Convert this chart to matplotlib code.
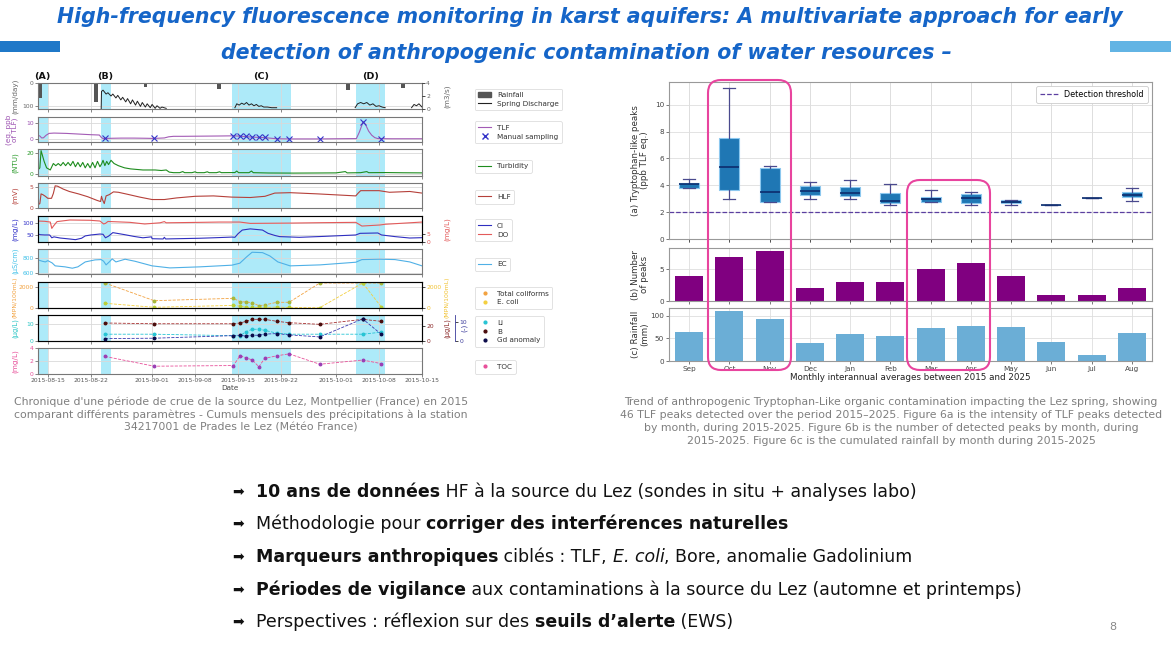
import numpy as np
import pandas as pd
import matplotlib
matplotlib.use('Agg')
import matplotlib.pyplot as plt
import matplotlib.dates as mdates
from matplotlib.patches import FancyBboxPatch, Rectangle, Patch
from matplotlib.lines import Line2D

# ----------------------------------------------------------------- DATA
# Left chart : days since 2015-08-15
rain_days = [-1.2, 7.9, 15.9, 27.0, 27.9, 28.9, 30.8, 47.8, 48.9, 57.9]
rain_mm = [64, 81, 16, 5, 26, 5, 3, 3, 30, 22]

q_days = [8.7, 8.75, 9.0, 9.5, 9.8, 10.3, 10.6, 11.1, 11.4, 11.9, 12.2, 12.7, 13.0, 13.5, 13.8,
          14.3, 14.6, 15.1, 15.4, 15.9, 16.2, 16.7, 17.0, 17.5, 17.8, 18.3, 18.6, 19.3, np.nan,
          30.5, 30.8, 31.2, 31.6, 32.0, 32.4, 32.8, 33.2, 33.6, 34.0, 34.4, 34.8, 35.2, 35.8, 36.5, 37.3, np.nan,
          50.1, 50.5, 51.0, 51.5, 52.0, 52.5, 53.0, 53.5, 54.0, 54.5, 55.0, np.nan,
          59.3, 59.7, 60.1, 60.5, 61.0]
q_m3s = [0.0, 2.7, 2.9, 2.3, 2.5, 2.0, 2.3, 1.7, 2.1, 1.4, 1.8, 1.1, 1.6, 0.8, 1.4,
         0.6, 1.2, 0.4, 1.0, 0.3, 0.8, 0.2, 0.7, 0.1, 0.5, 0.1, 0.3, 0.1, np.nan,
         0.2, 0.8, 0.6, 0.9, 0.7, 1.0, 0.6, 0.8, 0.5, 0.7, 0.4, 0.5, 0.3, 0.3, 0.2, 0.2, np.nan,
         0.2, 0.8, 1.0, 0.8, 1.0, 0.6, 0.8, 0.4, 0.5, 0.3, 0.2, np.nan,
         0.2, 0.7, 0.5, 0.8, 0.3]

tlf_days = [-1.6, -1.3, -1.0, -0.7, -0.3, 0.2, 1.0, 3.0, 5.0, 7.0, 8.4, 8.7, 9.0, 9.5, 10.5, 12, 14, 16,
            17.3, 19, 19.7, 20.5, 22, 25, 28, 30.2, 31.3, 33.3, 35.3, 37.3, 39.3, 42, 44.3, 47, 50.3,
            50.8, 51.4, 51.8, 52.3, 52.8, 53.3, 53.8, 56, 58, 61]
tlf_val = [2.4, 2.0, 0.8, 0.9, 2.4, 3.6, 3.8, 3.6, 3.2, 2.8, 2.6, 1.2, 0.4, 0.5, 0.6, 0.7, 0.7, 0.6,
           0.5, 0.8, 1.5, 1.8, 1.8, 1.9, 2.0, 2.1, 1.9, 1.3, 1.0, 0.3, 0.2, 0.2, 0.2, 0.3, 0.4,
           4.5, 10.8, 9.0, 5.0, 2.5, 1.0, 0.4, 0.3, 0.3, 0.3]

turb_days = [-1.6, -1.3, -1.1, -0.9, -0.6, -0.2, 0.4, 0.9, 1.3, 1.7, 2.1, 2.5, 2.9, 3.3, 3.7, 4.1, 4.5,
             4.9, 5.3, 5.7, 6.1, 6.5, 6.9, 7.3, 7.7, 8.1, 8.5, 8.8, 9.0, 9.3, 9.6, 9.9, 10.3, 10.8,
             11.5, 12.5, 13.5, 14.5, 15.5, 16.5, 17.5, 18.5, 19.3, 19.8, 20.5, 21.5, 22.0, 22.3,
             23.5, 24.0, 24.3, 25.5, 26.0, 26.3, 27.5, 28.0, 28.3, 30.5, 30.8, 31.1, 32.8, 33.2,
             33.5, 36, 40, 44, 47, 48.5, 48.8, 51, 52, 52.3, 55, 58, 61]
turb_ntu = [4, 6, 22, 18, 12, 6, 4, 10, 8, 10, 8, 11, 8, 11, 8, 12, 7,
            11, 7, 11, 6, 10, 6, 11, 6, 12, 7, 10, 13, 8, 12, 9, 13, 10,
            8, 6, 5, 4.5, 4, 4, 4, 3.5, 4, 2, 1.5, 1.5, 2.5, 1.5,
            1.5, 2.3, 1.5, 1.5, 2.3, 1.5, 1.5, 2.3, 1.5, 1.6, 3.0, 1.5, 1.5, 3.0,
            1.5, 1.2, 1.1, 1.2, 1.3, 2.5, 1.3, 1.5, 2.5, 1.5, 1.6, 1.4, 1.3]

hlf_days = [-1.6, -1.3, -1.1, -0.8, -0.4, 0.0, 0.6, 0.9, 1.2, 1.6, 2.5, 3.5, 5, 6.5, 8.0, 8.6, 8.75,
            8.9, 9.2, 9.5, 10.0, 10.7, 11.5, 13.0, 15, 17, 19, 21, 24, 27, 30, 33, 35.4, 37, 39.5,
            44, 50.2, 50.6, 51, 54, 55.7, 59, 61]
hlf_mv = [0.7, 1.0, 3.4, 3.2, 2.8, 2.3, 2.3, 3.5, 5.4, 5.3, 4.6, 4.0, 3.4, 2.7, 1.8, 1.5, 2.8,
          2.0, 1.0, 2.9, 3.2, 3.9, 3.8, 3.3, 2.6, 2.0, 2.0, 2.4, 2.8, 2.9, 2.6, 2.5, 2.8, 3.6, 3.7,
          3.4, 2.9, 3.6, 4.2, 4.2, 3.8, 4.0, 3.6]

cl_days = [-1.6, -1.2, -0.5, 0.3, 0.65, 1.0, 2, 3.5, 4.5, 5.5, 6.1, 7, 8.5, 9.0, 9.4, 9.9, 10.6, 11.5,
           12.6, 14, 15.5, 16.9, 17.0, 18.8, 19.0, 19.2, 21, 24.8, 27, 30, 30.5, 31.0, 31.7, 33, 35,
           35.9, 37, 37.8, 41, 45, 50.2, 50.9, 53.8, 54.4, 56.6, 59, 61]
cl_mgl = [54, 51, 50, 50, 38, 42, 37, 33, 30, 36, 46, 50, 54, 53, 38, 45, 60, 56,
          51, 44, 38, 42, 34, 33, 40, 33, 34, 36, 38, 41, 40, 55, 71, 76, 71,
          57, 48, 43, 40, 44, 50, 57, 58.5, 50, 43, 37, 38.5]

do_days = [-1.6, -0.5, 0.4, 0.65, 0.9, 1.5, 3.6, 6.9, 8.5, 9.1, 9.4, 9.8, 13.4, 15.8, 18.3, 19.0,
           19.3, 24.8, 28, 31.3, 33, 39.5, 45, 50.2, 51.2, 54.1, 55, 61]
do_mgl = [14.0, 13.8, 13.3, 9.0, 10.5, 13.6, 14.7, 14.5, 14.0, 12.0, 12.4, 13.7, 13.1, 12.0, 12.8,
          13.6, 12.8, 13.1, 13.3, 13.3, 12.4, 12.6, 12.9, 13.1, 10.6, 11.3, 11.8, 13.3]

ec_days = [-1.6, -0.9, -0.4, 0.0, 0.7, 1.2, 2.8, 4.0, 4.9, 6.1, 7.7, 8.7, 9.1, 9.5, 10.0, 10.5, 11.1,
           12.6, 14.2, 17.0, 19.9, 24.8, 30.0, 31.3, 32.4, 33.3, 35.0, 36.2, 37.5, 39.5, 44.4,
           50.2, 51.2, 54.1, 56.6, 59.0, 61.0]
ec_uscm = [778, 760, 751, 768, 738, 699, 686, 668, 686, 751, 778, 782, 760, 712, 750, 791, 751,
           787, 760, 699, 672, 686, 708, 734, 817, 879, 874, 830, 751, 699, 712,
           747, 782, 787, 782, 751, 699]

# Sampling campaigns
samp_dates = ['2015-08-24 08:00', '2015-09-01 08:00', '2015-09-14 06:00', '2015-09-15 08:00',
              '2015-09-16 08:00', '2015-09-17 08:00', '2015-09-18 10:00', '2015-09-19 08:00',
              '2015-09-21 08:00', '2015-09-23 08:00', '2015-09-28 08:00', '2015-10-05 08:00',
              '2015-10-08 08:00']
tlf_manual = [0.5, 0.5, 2.0, 2.1, 1.8, 1.2, 1.2, 1.2, 0.2, 0.2, 0.2, 10.8, 0.2]
total_coliforms = [2420, 686, 920, 590, 560, 490, 196, 265, 530, 530, 2420, 2420, 2420]
e_coli = [431, 39, 225, 157, 40, 20, 10, 20, 60, 20, 0, 2420, 98]
li_ugl = [3.8, 3.8, 2.9, 2.9, 5.3, 6.7, 6.7, 6.1, 4.4, 3.8, 3.8, 3.8, 5.0]
b_ugl = [24.1, 23.1, 23.1, 24.1, 26.4, 29.1, 29.1, 29.1, 26.4, 24.5, 22.3, 29.1, 26.4]
gd_anom = [1.2, 1.4, 2.8, 3.0, 2.5, 3.0, 3.0, 3.6, 3.9, 3.2, 2.1, 11.8, 3.6]
toc_mgl = [2.7, 1.2, 1.3, 2.8, 2.5, 2.15, 1.1, 2.4, 2.8, 3.1, 1.5, 2.15, 1.6]

# Right chart
months = ['Sep', 'Oct', 'Nov', 'Dec', 'Jan', 'Feb', 'Mar', 'Apr', 'May', 'Jun', 'Jul', 'Aug']
tlf_whislo = [3.8, 2.98, 2.73, 3.0, 3.0, 2.55, 2.75, 2.5, 2.55, 2.55, 3.05, 2.85]
tlf_q1 = [3.8, 3.67, 2.78, 3.3, 3.22, 2.65, 2.75, 2.7, 2.65, 2.55, 3.05, 3.13]
tlf_med = [4.1, 5.33, 3.5, 3.6, 3.42, 2.8, 2.95, 3.05, 2.78, 2.55, 3.05, 3.3]
tlf_q3 = [4.17, 7.52, 5.31, 3.92, 3.87, 3.4, 3.15, 3.37, 2.87, 2.55, 3.05, 3.52]
tlf_whishi = [4.47, 11.24, 5.43, 4.24, 4.41, 4.09, 3.65, 3.47, 2.87, 2.55, 3.05, 3.77]
n_peaks = [4, 7, 8, 2, 3, 3, 5, 6, 4, 1, 1, 2]
rain_month = [64, 111, 92, 40, 60, 55, 73, 77, 75, 41, 14, 62]
detection_threshold = 2.0

# ----------------------------------------------------------------- FIGURE
W, H = 1171, 646
fig = plt.figure(figsize=(W / 100, H / 100), dpi=100)
plt.rcParams['font.family'] = ['DejaVu Sans']
fig.patch.set_facecolor('white')

BASE = pd.Timestamp('2015-08-15')


def T(days):
    return BASE + pd.to_timedelta(np.asarray(days, dtype=float), unit='D')


def add_ax(x0, y0, x1, y1):
    return fig.add_axes([x0 / W, 1 - y1 / H, (x1 - x0) / W, (y1 - y0) / H])


samp = pd.to_datetime(samp_dates)
shade = [(-2.0, 0.05), (8.65, 10.3), (30.0, 39.7), (50.3, 54.9)]
XL0, XL1 = T([-1.6])[0], T([61.0])[0]
AXW = 422 - 38
TS = 4.3   # tick label size
LS = 5.2   # label size


def style_left(ax, last=False):
    ax.set_xlim(XL0, XL1)
    for a, b in shade:
        ax.axvspan(T([a])[0], T([b])[0], color='#00bfee', alpha=0.32, lw=0, zorder=0)
    ax.xaxis.set_major_locator(mdates.DayLocator(bymonthday=[1, 8, 15, 22]))
    ax.xaxis.set_major_formatter(mdates.DateFormatter('%Y-%m-%d'))
    ax.grid(True, color='#d9d9d9', lw=0.6, zorder=0)
    ax.set_axisbelow(True)
    ax.tick_params(labelsize=TS, length=2, width=0.5, pad=1, colors='#555')
    if not last:
        ax.tick_params(labelbottom=False)
    for s in ax.spines.values():
        s.set_color('#777')
        s.set_linewidth(0.8)


def ylab_left(ax, text, color, size=LS, ypos=0.5):
    ax.set_ylabel(text, fontsize=size, color=color, linespacing=0.95)
    ax.yaxis.set_label_coords(-20 / AXW, ypos)
    ax.tick_params(axis='y', labelcolor=color)


def ylab_right(ax, text, color, off=22, size=LS, ypos=0.5):
    ax.set_ylabel(text, fontsize=size, color=color, rotation=90)
    ax.yaxis.set_label_coords(1 + off / AXW, ypos)
    ax.yaxis.label.set_va('top')
    ax.tick_params(axis='y', labelcolor=color, labelsize=TS, length=2, width=0.5, pad=1)


# panel 1 rainfall / discharge
ax1 = add_ax(38, 83, 422, 109)
style_left(ax1)
ax1.bar(T(rain_days), rain_mm, width=0.6, color='#555555', zorder=2)
ax1.set_ylim(113, 0)
ax1.set_yticks([0, 100])
ylab_left(ax1, '(mm/day)', '#666666')
ax1b = ax1.twinx()
ax1b.plot(T(q_days), q_m3s, color='#222222', lw=0.7)
ax1b.set_ylim(0, 4.0)
ax1b.set_yticks([0, 2, 4])
ylab_right(ax1b, '(m3/s)', '#666666')
ax1b.set_xlim(XL0, XL1)
for s in ax1b.spines.values():
    s.set_visible(False)

# panel 2 TLF
ax2 = add_ax(38, 117, 422, 142)
style_left(ax2)
ax2.plot(T(tlf_days), tlf_val, color='#a35bb5', lw=0.8)
ax2.plot(samp, tlf_manual, ls='none', marker='x', color='#3434c8', ms=4, mew=0.8)
ax2.set_ylim(-1.7, 13.7)
ax2.set_yticks([0, 10])
ylab_left(ax2, '(eq. ppb\nof TLF)', '#9b4fb0')

# panel 3 turbidity
ax3 = add_ax(38, 149, 422, 176)
style_left(ax3)
ax3.plot(T(turb_days), turb_ntu, color='#1e8c1e', lw=0.8)
ax3.set_ylim(-1.6, 23.5)
ax3.set_yticks([0, 20])
ylab_left(ax3, '(NTU)', '#2a9a2a')

# panel 4 HLF
ax4 = add_ax(38, 183, 422, 208)
style_left(ax4)
ax4.plot(T(hlf_days), hlf_mv, color='#b5403a', lw=0.8)
ax4.set_ylim(-0.1, 6.1)
ax4.set_yticks([0, 5])
ylab_left(ax4, '(mV)', '#b5403a')

# panel 5 Cl / DO
ax5 = add_ax(38, 216, 422, 242)
style_left(ax5)
ax5.plot(T(cl_days), cl_mgl, color='#2f2fc0', lw=0.8)
ax5.set_ylim(20, 131)
ax5.set_yticks([50, 100])
ylab_left(ax5, '(mg/L)', '#3030c8')
ax5b = ax5.twinx()
ax5b.plot(T(do_days), do_mgl, color='#e35a5a', lw=0.8)
ax5b.set_ylim(-0.2, 17.4)
ax5b.set_yticks([0, 5])
ylab_right(ax5b, '(mg/L)', '#e35a5a')
ax5b.set_xlim(XL0, XL1)

# panel 6 EC
ax6 = add_ax(38, 249, 422, 273.5)
style_left(ax6)
ax6.plot(T(ec_days), ec_uscm, color='#4fb0e6', lw=0.8)
ax6.set_ylim(598, 922)
ax6.set_yticks([600, 800])
ylab_left(ax6, '(µS/cm)', '#3fc0e8', size=4.9)

# panel 7 coliforms
ax7 = add_ax(38, 282, 422, 308)
style_left(ax7)
ax7.plot(samp, total_coliforms, ls='--', lw=0.6, color='#f2a240', marker='o', ms=1.8,
         mfc='#a8b83a', mec='#a8b83a')
ax7.set_ylim(-30, 2520)
ax7.set_yticks([0, 2000])
ylab_left(ax7, '(MPN/100mL)', '#f2a240', size=4.4, ypos=0.4)
ax7b = ax7.twinx()
ax7b.plot(samp, e_coli, ls='--', lw=0.6, color='#f4d03f', marker='o', ms=1.8,
          mfc='#b8cf3a', mec='#b8cf3a')
ax7b.set_ylim(-30, 2520)
ax7b.set_yticks([0, 2000])
ylab_right(ax7b, '(MPN/100mL)', '#f1c232', size=4.4, ypos=0.4)
ax7b.set_xlim(XL0, XL1)
for s in ax7.spines.values():
    s.set_color('#555')

# panel 8 Li / B / Gd
ax8 = add_ax(38, 315, 422, 341)
style_left(ax8)
ax8.plot(samp, li_ugl, ls='--', lw=0.6, color='#27c4d4', marker='o', ms=1.8)
ax8.set_ylim(-0.2, 15.1)
ax8.set_yticks([0, 10])
ylab_left(ax8, '(µg/L)', '#27c4c4', size=4.9)
ax8b = ax8.twinx()
ax8b.plot(samp, b_ugl, ls='--', lw=0.6, color='#a83232', marker='o', ms=1.8, mfc='#4a0d0d', mec='#4a0d0d')
ax8b.set_ylim(-0.4, 35)
ax8b.set_yticks([0, 20])
ylab_right(ax8b, '(µg/L)', '#8b2a2a', size=4.9)
ax8b.set_xlim(XL0, XL1)
ax8c = ax8.twinx()
ax8c.spines['right'].set_position(('outward', 24))
ax8c.spines['right'].set_color('#3a3a9a')
ax8c.spines['right'].set_linewidth(0.6)
ax8c.plot(samp, gd_anom, ls='--', lw=0.6, color='#3a3ab0', marker='o', ms=1.8, mfc='#0b0b4a', mec='#0b0b4a')
ax8c.set_ylim(-0.1, 13.9)
ax8c.set_yticks([0, 10])
ylab_right(ax8c, '(-)', '#3a3a9a', off=39)
ax8c.set_xlim(XL0, XL1)
for s in ['top', 'left', 'bottom']:
    ax8c.spines[s].set_visible(False)
for s in ax8.spines.values():
    s.set_color('#555')

# panel 9 TOC
ax9 = add_ax(38, 348, 422, 374)
style_left(ax9, last=True)
ax9.plot(samp, toc_mgl, ls='--', lw=0.6, color='#e8509a', marker='o', ms=1.8, mfc='#9b3fb5', mec='#9b3fb5')
ax9.set_ylim(0, 4)
ax9.set_yticks([0, 2, 4])
ylab_left(ax9, '(mg/L)', '#e8509a')
ax9.tick_params(axis='x', labelcolor='#555')
ax9.set_xlabel('Date', fontsize=LS, labelpad=1, color='#444')

# event letters
for lab, xp in [('(A)', 42), ('(B)', 105), ('(C)', 261), ('(D)', 371)]:
    fig.text(xp / W, 1 - 76 / H, lab, ha='center', va='center', fontsize=6.8, fontweight='bold', color='#111')

# legends of left chart
leg_kw = dict(loc='upper left', fontsize=5.2, frameon=True, framealpha=1, edgecolor='#dddddd',
              handlelength=1.8, borderpad=0.5, labelspacing=0.35, handletextpad=0.8, fancybox=True)
legs = [
    (85, [Patch(color='#555555'), Line2D([], [], color='#222', lw=0.8)], ['Rainfall', 'Spring Discharge']),
    (117.7, [Line2D([], [], color='#a35bb5', lw=0.8), Line2D([], [], ls='none', marker='x', color='#3434c8', ms=4)],
     ['TLF', 'Manual sampling']),
    (156, [Line2D([], [], color='#1e8c1e', lw=0.8)], ['Turbidity']),
    (186.7, [Line2D([], [], color='#b5403a', lw=0.8)], ['HLF']),
    (215.7, [Line2D([], [], color='#2f2fc0', lw=0.8), Line2D([], [], color='#e35a5a', lw=0.8)], ['Cl', 'DO']),
    (254, [Line2D([], [], color='#4fb0e6', lw=0.8)], ['EC']),
    (283.3, [Line2D([], [], ls='none', marker='o', ms=2, color='#f2a240'),
             Line2D([], [], ls='none', marker='o', ms=2, color='#f4d03f')], ['Total coliforms', 'E. coli']),
    (312.7, [Line2D([], [], ls='none', marker='o', ms=2, color='#27c4d4'),
             Line2D([], [], ls='none', marker='o', ms=2, color='#4a0d0d'),
             Line2D([], [], ls='none', marker='o', ms=2, color='#0b0b4a')], ['Li', 'B', 'Gd anomaly']),
    (356.7, [Line2D([], [], ls='none', marker='o', ms=2, color='#e8509a')], ['TOC']),
]
for ytop, hnd, lab in legs:
    lg = fig.legend(hnd, lab, bbox_to_anchor=(471 / W, 1 - ytop / H), **leg_kw)
    lg.get_frame().set_linewidth(0.6)
    for t in lg.get_texts():
        t.set_color('#333')

# ----------------------------------------------------------------- RIGHT CHART
RW = 1152 - 669
RT = 5.2


def style_right(ax):
    ax.set_xlim(-0.5, 11.5)
    ax.set_xticks(range(12))
    ax.grid(True, color='#dedede', lw=0.6)
    ax.set_axisbelow(True)
    ax.tick_params(labelsize=RT, length=2, width=0.5, pad=1.5, colors='#444')
    for s in ax.spines.values():
        s.set_color('#999')
        s.set_linewidth(0.8)


axa = add_ax(669, 82, 1152, 239)
style_right(axa)
stats = [dict(med=m, q1=a, q3=b, whislo=lo, whishi=hi, fliers=[])
         for m, a, b, lo, hi in zip(tlf_med, tlf_q1, tlf_q3, tlf_whislo, tlf_whishi)]
axa.bxp(stats, positions=list(range(12)), widths=0.5, patch_artist=True, showfliers=False,
        capwidths=0.3,
        boxprops=dict(facecolor='#1f77b4', edgecolor='#8cc8ef', lw=0.8),
        medianprops=dict(color='#0c2c6e', lw=1.2),
        whiskerprops=dict(color='#4a4a8e', lw=0.9),
        capprops=dict(color='#4a4a8e', lw=0.9))
axa.axhline(detection_threshold, ls='--', color='#5b3fa0', lw=0.9, label='Detection threshold', zorder=1)
axa.set_ylim(0, 11.7)
axa.set_yticks([0, 2, 4, 6, 8, 10])
axa.set_xlim(-0.5, 11.5)
axa.set_xticklabels([])
axa.set_ylabel('(a) Tryptophan-like peaks\n(ppb TLF eq.)', fontsize=6.3, color='#333', linespacing=1.0)
axa.yaxis.set_label_coords(-20 / RW, 0.5)
lg = axa.legend(loc='upper right', fontsize=5.8, frameon=True, framealpha=1, edgecolor='#cccccc',
                handlelength=2.2, borderpad=0.5)
lg.get_frame().set_linewidth(0.6)

axb = add_ax(669, 248, 1152, 301)
style_right(axb)
axb.bar(range(12), n_peaks, width=0.7, color='#800080', zorder=2)
axb.set_ylim(0, 8.4)
axb.set_yticks([0, 5])
axb.set_xticklabels([])
axb.set_ylabel('(b) Number\nof peaks', fontsize=6.3, color='#333', linespacing=1.0)
axb.yaxis.set_label_coords(-20 / RW, 0.5)

axc = add_ax(669, 308, 1152, 361)
style_right(axc)
axc.bar(range(12), rain_month, width=0.7, color='#6baed6', zorder=2)
axc.set_ylim(0, 117)
axc.set_yticks([0, 50, 100])
axc.set_xticklabels(months)
axc.set_xlabel('Monthly interannual averages between 2015 and 2025', fontsize=6.3, labelpad=1, color='#222')
axc.set_ylabel('(c) Rainfall\n(mm)', fontsize=6.3, color='#333', linespacing=1.0)
axc.yaxis.set_label_coords(-20 / RW, 0.5)

# pink highlight boxes (pixel geometry converted to inches)
for x0, y0, x1, y1 in [(708, 80, 791, 370), (907, 180, 990, 370)]:
    p = FancyBboxPatch((x0 / 100, (H - y1) / 100), (x1 - x0) / 100, (y1 - y0) / 100,
                       boxstyle='round,pad=0,rounding_size=0.13', transform=fig.dpi_scale_trans,
                       fill=False, ec='#e8449e', lw=1.5, zorder=10)
    fig.add_artist(p)

# ----------------------------------------------------------------- SLIDE TEXT
title_kw = dict(ha='center', va='center', fontsize=14.8, fontweight='bold', fontstyle='italic',
                color='#1565c8', family='DejaVu Sans')
fig.text(590 / W, 1 - 16.7 / H,
         'High-frequency fluorescence monitoring in karst aquifers: A multivariate approach for early',
         **title_kw)
fig.text(586 / W, 1 - 53 / H, 'detection of anthropogenic contamination of water resources –', **title_kw)
fig.add_artist(Rectangle((0, 1 - 51.7 / H), 60 / W, 11 / H, transform=fig.transFigure,
                         color='#1f78c8', lw=0))
fig.add_artist(Rectangle((1110 / W, 1 - 51.7 / H), 61 / W, 11 / H, transform=fig.transFigure,
                         color='#62b4e4', lw=0))

cap_kw = dict(ha='center', va='center', fontsize=7.8, color='#7f7f7f', family='DejaVu Sans')
for i, line in enumerate(["Chronique d'une période de crue de la source du Lez, Montpellier (France) en 2015",
                          "comparant différents paramètres - Cumuls mensuels des précipitations à la station",
                          "34217001 de Prades le Lez (Météo France)"]):
    fig.text(241 / W, 1 - (401.7 + 12.8 * i) / H, line, **cap_kw)
for i, line in enumerate(["Trend of anthropogenic Tryptophan-Like organic contamination impacting the Lez spring, showing",
                          "46 TLF peaks detected over the period 2015–2025. Figure 6a is the intensity of TLF peaks detected",
                          "by month, during 2015-2025. Figure 6b is the number of detected peaks by month, during",
                          "2015-2025. Figure 6c is the cumulated rainfall by month during 2015-2025"]):
    fig.text(891 / W, 1 - (401.7 + 13.2 * i) / H, line, **cap_kw)

bullets = [
    [("10 ans de données", 'bold', 'normal'),
     (" HF à la source du Lez (sondes in situ + analyses labo)", 'normal', 'normal')],
    [("Méthodologie pour ", 'normal', 'normal'), ("corriger des interférences naturelles", 'bold', 'normal')],
    [("Marqueurs anthropiques", 'bold', 'normal'), (" ciblés : TLF, ", 'normal', 'normal'),
     ("E. coli", 'normal', 'italic'), (", Bore, anomalie Gadolinium", 'normal', 'normal')],
    [("Périodes de vigilance", 'bold', 'normal'),
     (" aux contaminations à la source du Lez (automne et printemps)", 'normal', 'normal')],
    [("Perspectives : réflexion sur des ", 'normal', 'normal'), ("seuils d’alerte", 'bold', 'normal'),
     (" (EWS)", 'normal', 'normal')],
]
renderer = fig.canvas.get_renderer()
for yb, segs in zip([492, 524, 557, 590, 622], bullets):
    fig.text(232 / W, 1 - yb / H, '➡', fontsize=10, ha='left', va='center', color='#111', family='DejaVu Sans')
    x = 256
    for txt, wgt, sty in segs:
        t = fig.text(x / W, 1 - yb / H, txt, fontsize=12.5, fontweight=wgt, fontstyle=sty,
                     ha='left', va='center', color='#111', family='DejaVu Sans')
        x += t.get_window_extent(renderer=renderer).width

fig.text(1113 / W, 1 - 627 / H, '8', fontsize=8, ha='center', va='center', color='#888')

fig.savefig('out.png', dpi=100)
